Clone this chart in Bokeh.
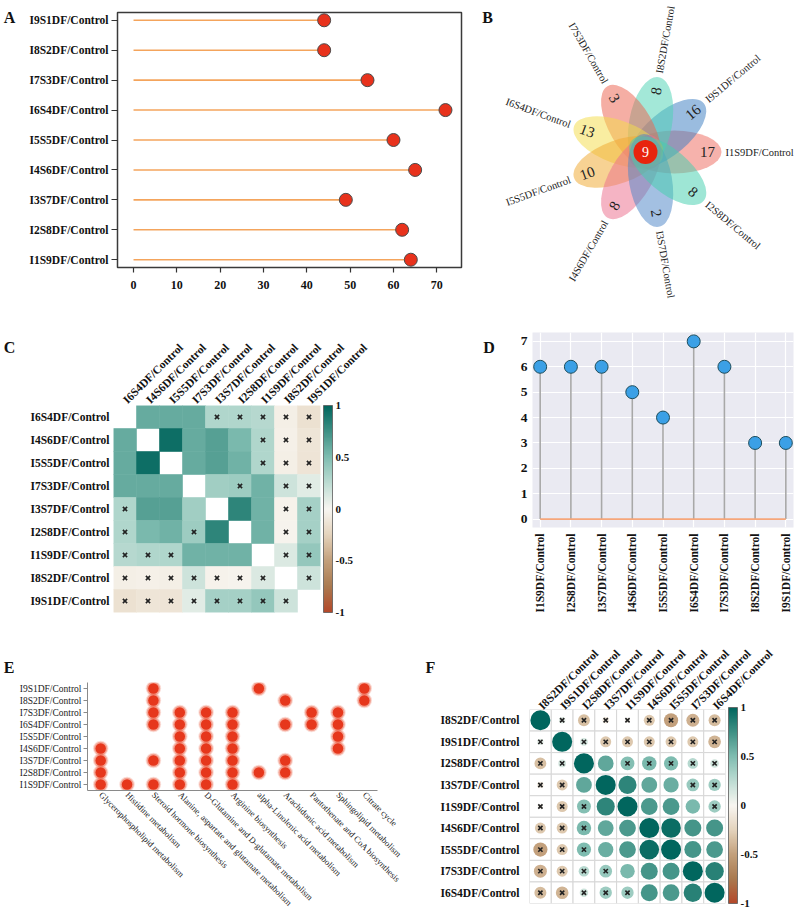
import numpy as np
from math import pi
from bokeh.plotting import figure
from bokeh.models import (Range1d, FactorRange, FixedTicker, LinearColorMapper,
                          ColorBar, PrintfTickFormatter, ColumnDataSource)
from bokeh.layouts import row, column
from bokeh.transform import transform
from bokeh.core.properties import value
from bokeh.embed import file_html
from bokeh.resources import INLINE

SERIF = "Liberation Serif"

# ---------------- data ----------------
# Panel A: number of differential metabolites per comparison
a_groups = ["I1S9DF/Control", "I2S8DF/Control", "I3S7DF/Control", "I4S6DF/Control",
            "I5S5DF/Control", "I6S4DF/Control", "I7S3DF/Control", "I8S2DF/Control",
            "I9S1DF/Control"]
a_counts = [64, 62, 49, 65, 60, 72, 54, 44, 44]
a_ticks = [0, 10, 20, 30, 40, 50, 60, 70]

# Panel B: flower (Venn) diagram
b_groups = ["I1S9DF/Control", "I9S1DF/Control", "I8S2DF/Control", "I7S3DF/Control",
            "I6S4DF/Control", "I5S5DF/Control", "I4S6DF/Control", "I3S7DF/Control",
            "I2S8DF/Control"]
b_unique = [17, 16, 8, 3, 13, 10, 8, 2, 8]
b_core = 9
b_colors = ["#ee6b60", "#3d7fc1", "#4fd2b4", "#ec6450", "#f3dc4a",
            "#f0a830", "#ec6f8e", "#4f86c8", "#45cfae"]

# Panel C: correlation heatmap (None = diagonal), 1 = not significant
c_labels = ["I6S4DF/Control", "I4S6DF/Control", "I5S5DF/Control", "I7S3DF/Control",
            "I3S7DF/Control", "I2S8DF/Control", "I1S9DF/Control", "I8S2DF/Control",
            "I9S1DF/Control"]
c_corr = [
    [None, 0.60, 0.60, 0.60, 0.30, 0.30, 0.28, -0.05, -0.15],
    [0.60, None, 0.95, 0.60, 0.66, 0.52, 0.30, -0.04, -0.12],
    [0.60, 0.95, None, 0.60, 0.66, 0.56, 0.30, -0.05, -0.13],
    [0.60, 0.60, 0.60, None, 0.36, 0.38, 0.56, 0.18, 0.10],
    [0.30, 0.66, 0.66, 0.36, None, 0.82, 0.56, -0.03, 0.35],
    [0.30, 0.52, 0.56, 0.38, 0.82, None, 0.56, -0.02, 0.35],
    [0.28, 0.30, 0.30, 0.56, 0.56, 0.56, None, 0.12, 0.42],
    [-0.05, -0.04, -0.05, 0.18, -0.03, -0.02, 0.12, None, 0.18],
    [-0.15, -0.12, -0.13, 0.10, 0.35, 0.35, 0.42, 0.18, None],
]
c_nonsig = [
    [0, 0, 0, 0, 1, 1, 1, 1, 1],
    [0, 0, 0, 0, 0, 0, 1, 1, 1],
    [0, 0, 0, 0, 0, 0, 1, 1, 1],
    [0, 0, 0, 0, 0, 1, 0, 1, 1],
    [1, 0, 0, 0, 0, 0, 0, 1, 1],
    [1, 0, 0, 1, 0, 0, 0, 1, 1],
    [1, 1, 1, 0, 0, 0, 0, 1, 1],
    [1, 1, 1, 1, 1, 1, 1, 0, 1],
    [1, 1, 1, 1, 1, 1, 1, 1, 0],
]

# Panel D: number of enriched pathways per comparison
d_groups = ["I1S9DF/Control", "I2S8DF/Control", "I3S7DF/Control", "I4S6DF/Control",
            "I5S5DF/Control", "I6S4DF/Control", "I7S3DF/Control", "I8S2DF/Control",
            "I9S1DF/Control"]
d_counts = [6, 6, 6, 5, 4, 7, 6, 3, 3]
d_ticks = [0, 1, 2, 3, 4, 5, 6, 7]

# Panel E: pathway membership
e_groups = ["I1S9DF/Control", "I2S8DF/Control", "I3S7DF/Control", "I4S6DF/Control",
            "I5S5DF/Control", "I6S4DF/Control", "I7S3DF/Control", "I8S2DF/Control",
            "I9S1DF/Control"]
e_pathways = ["Glycerophospholipid metabolism", "Histidine metabolism",
              "Steroid hormone biosynthesis", "Alanine, aspartate and glutamate metabolism",
              "D-Glutamine and D-glutamate metabolism", "Arginine biosynthesis",
              "alpha-Linolenic acid metabolism", "Arachidonic acid metabolism",
              "Pantothenate and CoA biosynthesis", "Sphingolipid metabolism", "Citrate cycle"]
e_hits = [
    ["I4S6DF/Control", "I3S7DF/Control", "I2S8DF/Control", "I1S9DF/Control"],
    ["I1S9DF/Control"],
    ["I9S1DF/Control", "I8S2DF/Control", "I7S3DF/Control", "I6S4DF/Control",
     "I3S7DF/Control", "I1S9DF/Control"],
    ["I7S3DF/Control", "I6S4DF/Control", "I5S5DF/Control", "I4S6DF/Control",
     "I3S7DF/Control", "I2S8DF/Control", "I1S9DF/Control"],
    ["I7S3DF/Control", "I6S4DF/Control", "I5S5DF/Control", "I4S6DF/Control",
     "I3S7DF/Control", "I2S8DF/Control", "I1S9DF/Control"],
    ["I7S3DF/Control", "I6S4DF/Control", "I5S5DF/Control", "I4S6DF/Control",
     "I3S7DF/Control", "I2S8DF/Control", "I1S9DF/Control"],
    ["I9S1DF/Control", "I2S8DF/Control"],
    ["I8S2DF/Control", "I6S4DF/Control", "I3S7DF/Control", "I2S8DF/Control"],
    ["I7S3DF/Control", "I6S4DF/Control"],
    ["I7S3DF/Control", "I6S4DF/Control", "I5S5DF/Control", "I4S6DF/Control"],
    ["I9S1DF/Control", "I8S2DF/Control"],
]

# Panel F: correlation circles
f_labels = ["I8S2DF/Control", "I9S1DF/Control", "I2S8DF/Control", "I3S7DF/Control",
            "I1S9DF/Control", "I4S6DF/Control", "I5S5DF/Control", "I7S3DF/Control",
            "I6S4DF/Control"]
f_corr = [
    [1.00, 0.10, -0.35, -0.10, -0.06, -0.30, -0.50, -0.42, -0.36],
    [0.10, 1.00, 0.15, -0.30, -0.30, -0.30, -0.30, -0.30, -0.40],
    [-0.35, 0.15, 1.00, 0.62, 0.48, 0.52, 0.50, 0.28, 0.18],
    [-0.10, -0.30, 0.62, 1.00, 0.82, 0.62, 0.58, 0.40, 0.38],
    [-0.06, -0.30, 0.48, 0.82, 1.00, 0.70, 0.70, 0.52, 0.38],
    [-0.30, -0.30, 0.52, 0.62, 0.70, 1.00, 0.96, 0.72, 0.72],
    [-0.50, -0.30, 0.50, 0.58, 0.70, 0.96, 1.00, 0.72, 0.70],
    [-0.42, -0.30, 0.28, 0.40, 0.52, 0.72, 0.72, 1.00, 0.84],
    [-0.36, -0.40, 0.18, 0.38, 0.38, 0.72, 0.70, 0.84, 1.00],
]
f_nonsig = [
    [0, 1, 1, 1, 1, 1, 1, 1, 1],
    [1, 0, 1, 1, 1, 1, 1, 1, 1],
    [1, 1, 0, 0, 1, 1, 1, 1, 1],
    [1, 1, 0, 0, 0, 0, 0, 1, 1],
    [1, 1, 1, 0, 0, 0, 0, 0, 1],
    [1, 1, 1, 0, 0, 0, 0, 0, 0],
    [1, 1, 1, 0, 0, 0, 0, 0, 0],
    [1, 1, 1, 1, 0, 0, 0, 0, 0],
    [1, 1, 1, 1, 1, 0, 0, 0, 0],
]
cbar_ticks = [-1, -0.5, 0, 0.5, 1]
panel_letters = ["A", "B", "C", "D", "E", "F"]

# ---------------- palette ----------------
stops = [-1, -0.75, -0.5, -0.25, 0, 0.25, 0.5, 0.75, 1]
stop_cols = ["#b4482a", "#aa7a50", "#c3a07b", "#e4d3bc", "#f8f6f1",
             "#bddcd3", "#80bdb1", "#3f9185", "#01665e"]
rgb = np.array([[int(c[i:i + 2], 16) for i in (1, 3, 5)] for c in stop_cols], float)
palette = ["#%02x%02x%02x" % tuple(int(round(np.interp(v, stops, rgb[:, k]))) for k in range(3))
           for v in np.linspace(-1, 1, 256)]
mapper = LinearColorMapper(palette=palette, low=-1, high=1)


def base_fig(**kw):
    p = figure(output_backend="svg", toolbar_location=None, **kw)
    try:
        p.frame_align = False
    except Exception:
        pass
    p.grid.visible = False
    p.outline_line_color = None
    return p


def style_axis(ax, size, bold=True, color="#111111"):
    ax.major_label_text_font = SERIF
    ax.major_label_text_font_size = size
    ax.major_label_text_font_style = "bold" if bold else "normal"
    ax.major_label_text_color = color
    ax.minor_tick_line_color = None


def put_letter(p, txt, x, y):
    p.text(x=[x], y=[y], text=[txt], text_align="left", text_baseline="alphabetic",
           text_font=value(SERIF), text_font_style="bold", text_font_size="16px",
           text_color="#111111")


def letter_fig(w, h, txt, x, y):
    p = base_fig(width=w, height=h, x_range=Range1d(0, w), y_range=Range1d(0, h),
                 x_axis_type=None, y_axis_type=None, min_border=0)
    put_letter(p, txt, x, y)
    return p


def colorbar(p, h):
    cb = ColorBar(color_mapper=mapper, ticker=FixedTicker(ticks=cbar_ticks),
                  formatter=PrintfTickFormatter(format="%g"), width=9, height=h,
                  location=(3, 0), margin=0, padding=0, label_standoff=3,
                  major_tick_line_color=None, bar_line_color="#5a5a5a", bar_line_width=0.8,
                  major_label_text_font=SERIF, major_label_text_font_style="bold",
                  major_label_text_font_size="11px", major_label_text_color="#111111",
                  background_fill_alpha=0)
    p.add_layout(cb, "right")


# ---------------- Panel A ----------------
LA = letter_fig(16, 300, panel_letters[0], 3.3, 282.7)
pA = base_fig(width=454, height=300, x_range=Range1d(-3.7, 75.7),
              y_range=FactorRange(factors=a_groups, range_padding=-0.24,
                                  range_padding_units="absolute"),
              min_border_left=101, min_border_right=9, min_border_top=12, min_border_bottom=33)
pA.outline_line_color = "#3a3a3a"
pA.outline_line_width = 1.5
srcA = ColumnDataSource(dict(g=a_groups, v=a_counts, z=[0] * len(a_counts)))
pA.segment(x0="z", y0="g", x1="v", y1="g", source=srcA, line_color="#f4a45c", line_width=1.6)
pA.scatter(x="v", y="g", source=srcA, size=13, fill_color="#e8321c", line_color="#4a4a4a",
           line_width=1)
pA.xaxis.ticker = FixedTicker(ticks=a_ticks)
style_axis(pA.xaxis[0], "12px")
pA.xaxis.axis_line_color = None
pA.xaxis.major_tick_line_color = "#333333"
pA.xaxis.major_tick_line_width = 1.2
pA.xaxis.major_tick_in = 0
pA.xaxis.major_tick_out = 5
pA.xaxis.major_label_standoff = 8
style_axis(pA.yaxis[0], "11.5px")
pA.yaxis.axis_line_color = None
pA.yaxis.major_tick_out = 6
pA.yaxis.major_tick_in = 0
pA.yaxis.major_tick_line_color = "#333333"
pA.yaxis.major_label_standoff = 3

# ---------------- Panel B ----------------
pB = base_fig(width=331, height=300, x_range=Range1d(0, 331), y_range=Range1d(0, 300),
              x_axis_type=None, y_axis_type=None, min_border=0)
cx, cy = 175.0, 148.5
th = np.deg2rad(np.arange(len(b_groups)) * 40.0)
d_off, a_len, b_wid = 29.0, 47.0, 21.5
pB.ellipse(x=cx + d_off * np.cos(th), y=cy + d_off * np.sin(th), width=2 * a_len,
           height=2 * b_wid, angle=th, fill_color=b_colors, fill_alpha=0.52, line_color=None)
right = np.cos(th) > 0
txt_ang = np.where(right, th, th - pi)
pB.text(x=cx + 62 * np.cos(th), y=cy + 62 * np.sin(th), text=[str(v) for v in b_unique],
        angle=txt_ang, text_align="center", text_baseline="middle",
        text_font=value(SERIF), text_font_size="15px", text_color="#222222")
for side, al in ((right, "left"), (~right, "right")):
    idx = np.where(side)[0]
    pB.text(x=cx + 80 * np.cos(th[idx]), y=cy + 80 * np.sin(th[idx]),
            text=[b_groups[i] for i in idx], angle=txt_ang[idx], text_align=al,
            text_baseline="middle", text_font=value(SERIF), text_font_size="10.5px",
            text_color="#222222")
pB.circle(x=[cx], y=[cy], radius=12, fill_color="#e8240e", line_color=None)
pB.text(x=[cx], y=[cy], text=[str(b_core)], text_align="center", text_baseline="middle",
        text_font=value(SERIF), text_font_size="14px", text_color="white")
put_letter(pB, panel_letters[1], 11.7, 283.3)

# ---------------- Panel C ----------------
LC = letter_fig(16, 340, panel_letters[2], 3.3, 293.3)
pC = base_fig(width=384, height=340, x_range=FactorRange(factors=c_labels),
              y_range=FactorRange(factors=c_labels[::-1]), x_axis_location="above",
              min_border_left=97, min_border_right=80, min_border_top=105,
              min_border_bottom=28)
cx_, cy_, cv_, nx_, ny_ = [], [], [], [], []
for i, rlab in enumerate(c_labels):
    for j, clab in enumerate(c_labels):
        if c_corr[i][j] is None:
            continue
        cx_.append(clab); cy_.append(rlab); cv_.append(c_corr[i][j])
        if c_nonsig[i][j]:
            nx_.append(clab); ny_.append(rlab)
srcC = ColumnDataSource(dict(x=cx_, y=cy_, r=cv_))
pC.rect(x="x", y="y", width=1, height=1, source=srcC, fill_color=transform("r", mapper),
        line_color=transform("r", mapper), line_width=0.6)
pC.scatter(x=nx_, y=ny_, marker="x", size=6, line_width=1.6, line_color="#222222")
for ax in (pC.xaxis[0], pC.yaxis[0]):
    style_axis(ax, "11.5px")
    ax.axis_line_color = None
    ax.major_tick_line_color = None
    ax.major_tick_out = 0
    ax.major_label_standoff = 4
pC.xaxis.major_label_orientation = pi / 4
colorbar(pC, 207)

# ---------------- Panel D ----------------
LD = letter_fig(96, 340, panel_letters[3], 82.7, 293.3)
pD = base_fig(width=305, height=340,
              x_range=FactorRange(factors=d_groups, range_padding=-0.25,
                                  range_padding_units="absolute"),
              y_range=Range1d(-0.33, 7.35), min_border_left=36, min_border_right=8,
              min_border_top=32, min_border_bottom=113, background_fill_color="#eaeaf2")
pD.grid.visible = True
pD.grid.grid_line_color = "white"
pD.grid.grid_line_width = 1.2
pD.yaxis.ticker = FixedTicker(ticks=d_ticks)
srcD = ColumnDataSource(dict(g=d_groups, v=d_counts, z=[0] * len(d_counts)))
pD.segment(x0="g", y0="z", x1="g", y1="v", source=srcD, line_color="#a8a8a8", line_width=1.6)
pD.segment(x0=[d_groups[0]], y0=[0], x1=[d_groups[-1]], y1=[0], line_color="#f6a67a",
           line_width=1.6)
pD.scatter(x="g", y="v", source=srcD, size=13, fill_color="#3ba0e6", line_color="#1d4d5c",
           line_width=1)
for ax in (pD.xaxis[0], pD.yaxis[0]):
    ax.axis_line_color = None
    ax.major_tick_line_color = None
    ax.major_tick_out = 0
style_axis(pD.yaxis[0], "13.5px")
pD.yaxis.major_label_standoff = 5
style_axis(pD.xaxis[0], "11.5px")
pD.xaxis.major_label_orientation = pi / 2
pD.xaxis.major_label_standoff = 6

# ---------------- Panel E ----------------
LE = letter_fig(16, 276, panel_letters[4], 3.3, 249)
pE = base_fig(width=394, height=276, x_range=FactorRange(factors=e_pathways),
              y_range=FactorRange(factors=e_groups), min_border_left=70, min_border_right=33,
              min_border_top=42, min_border_bottom=126)
ex_, ey_ = [], []
for pw, gs in zip(e_pathways, e_hits):
    for g in gs:
        ex_.append(pw); ey_.append(g)
srcE = ColumnDataSource(dict(x=ex_, y=ey_))
pE.scatter(x="x", y="y", source=srcE, size=15.5, fill_color="#f07a64", fill_alpha=0.25,
           line_color=None)
pE.scatter(x="x", y="y", source=srcE, size=13.5, fill_color="#ec5a40", fill_alpha=0.45,
           line_color=None)
pE.scatter(x="x", y="y", source=srcE, size=10.5, fill_color="#e6371c", line_color=None)
style_axis(pE.yaxis[0], "9.5px", bold=False, color="#222222")
style_axis(pE.xaxis[0], "8.7px", bold=False, color="#222222")
for ax in (pE.xaxis[0], pE.yaxis[0]):
    ax.axis_line_color = "#8a8a8a"
    ax.major_tick_line_color = "#8a8a8a"
    ax.major_tick_in = 0
pE.yaxis.major_tick_out = 4
pE.yaxis.major_label_standoff = 2
pE.xaxis.major_tick_out = 0
pE.xaxis.major_label_standoff = 3
pE.xaxis.major_label_orientation = -pi / 4

# ---------------- Panel F ----------------
LF = letter_fig(26, 276, panel_letters[5], 15, 249)
pF = base_fig(width=365, height=276, x_range=FactorRange(factors=f_labels),
              y_range=FactorRange(factors=f_labels[::-1]), x_axis_location="above",
              min_border_left=93, min_border_right=76, min_border_top=67,
              min_border_bottom=13)
fx_, fy_, fv_, frad_, nfx, nfy = [], [], [], [], [], []
for i, rlab in enumerate(f_labels):
    for j, clab in enumerate(f_labels):
        r = f_corr[i][j]
        fx_.append(clab); fy_.append(rlab); fv_.append(r)
        frad_.append(0.46 * np.sqrt(abs(r)))
        if f_nonsig[i][j]:
            nfx.append(clab); nfy.append(rlab)
srcF = ColumnDataSource(dict(x=fx_, y=fy_, r=fv_, rad=frad_))
pF.rect(x="x", y="y", width=1, height=1, source=srcF, fill_color="white",
        line_color="#d6d6d6", line_width=1)
pF.circle(x="x", y="y", radius="rad", source=srcF, fill_color=transform("r", mapper),
          line_color=None)
pF.scatter(x=nfx, y=nfy, marker="x", size=6, line_width=1.6, line_color="#222222")
for ax in (pF.xaxis[0], pF.yaxis[0]):
    style_axis(ax, "11.5px")
    ax.axis_line_color = None
    ax.major_tick_line_color = None
    ax.major_tick_out = 0
pF.xaxis.major_label_standoff = 2
pF.yaxis.major_label_standoff = 10
pF.xaxis.major_label_orientation = pi / 4
colorbar(pF, 196)

layout = column(row(LA, pA, pB), row(LC, pC, LD, pD), row(LE, pE, LF, pF))
open("out.html", "w").write(file_html(layout, INLINE))
